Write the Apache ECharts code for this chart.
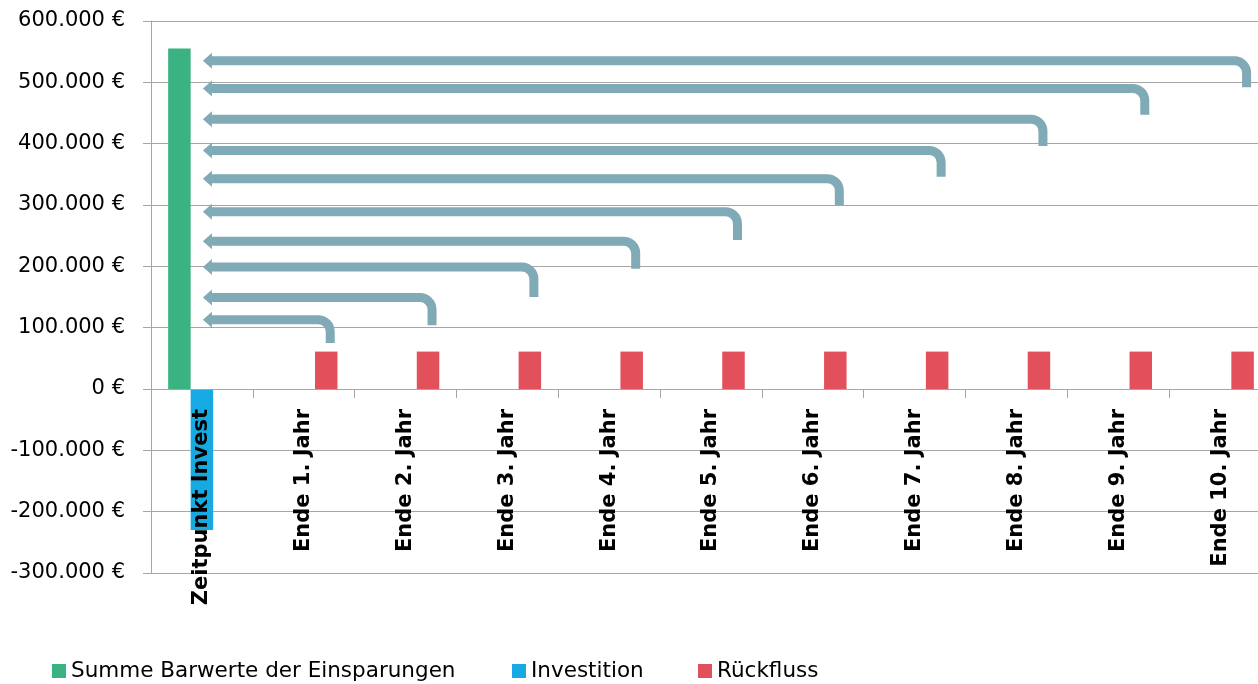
<!DOCTYPE html>
<html lang="de">
<head>
<meta charset="utf-8">
<title>Barwerte und Rückflüsse</title>
<script src="https://cdn.jsdelivr.net/npm/echarts@6/dist/echarts.min.js"></script>
<style>
  html, body { margin: 0; padding: 0; background: #fff; }
  #chart { width: 1258px; height: 684px; }
</style>
</head>
<body>
<div id="chart"></div>
<script>
// Zeitpunkte der Betrachtung
const categories = ['Zeitpunkt Invest', 'Ende 1. Jahr', 'Ende 2. Jahr', 'Ende 3. Jahr', 'Ende 4. Jahr',
  'Ende 5. Jahr', 'Ende 6. Jahr', 'Ende 7. Jahr', 'Ende 8. Jahr', 'Ende 9. Jahr', 'Ende 10. Jahr'];

// Werte in Euro
const summeBarwerte = [555000, '-', '-', '-', '-', '-', '-', '-', '-', '-', '-'];
const investition   = [-230000, '-', '-', '-', '-', '-', '-', '-', '-', '-', '-'];
const rueckfluss    = ['-', 61000, 61000, 61000, 61000, 61000, 61000, 61000, 61000, 61000, 61000];

// Pfeile: Jahr, Höhe der waagerechten Linie, unteres Ende der senkrechten Linie
const arrowYears  = [1, 2, 3, 4, 5, 6, 7, 8, 9, 10];
const arrowLevels = [113000, 149000, 199000, 241000, 289000, 343000, 389000, 440000, 490000, 535000];
const arrowStarts = [75000, 104000, 150000, 196000, 243000, 300000, 346000, 396000, 447000, 492000];

// Achsenbeschriftung
const yMin = -300000, yMax = 600000, yStep = 100000;

const FONT = 'DejaVu Sans';
const COLORS = { summe: '#3AB282', invest: '#17AAE2', rueck: '#E2505B', arrow: '#7FAAB6', grid: '#A6A6A6' };

function euro(v) {
  const s = String(Math.abs(v)).replace(/\B(?=(\d{3})+(?!\d))/g, '.');
  return (v < 0 ? '-' : '') + s + ' €';
}

const arrowData = arrowYears.map((y, i) => [y, arrowLevels[i], arrowStarts[i]]);

// Gebogener Pfeil vom Rückfluss zurück zum Zeitpunkt der Investition
function renderArrow(params, api) {
  const cat = api.value(0);
  const band = api.size([1, 0])[0];
  const top = api.coord([cat, api.value(1)]);
  const bottom = api.coord([cat, api.value(2)]);
  const tipX = api.coord([0, api.value(1)])[0] + 1;
  const vx = top[0] + band * 0.221 + 4;
  const y = top[1];
  const r = 12;
  const k = 0.55 * r;
  const head = 9, half = 8;
  const path = 'M' + vx + ',' + bottom[1] +
    ' L' + vx + ',' + (y + r) +
    ' C' + vx + ',' + (y + r - k) + ' ' + (vx - r + k) + ',' + y + ' ' + (vx - r) + ',' + y +
    ' L' + (tipX + head - 0.5) + ',' + y;
  return {
    type: 'group',
    children: [
      {
        type: 'path',
        shape: { pathData: path },
        style: { fill: 'none', stroke: COLORS.arrow, lineWidth: 9, lineCap: 'butt', lineJoin: 'round' }
      },
      {
        type: 'polygon',
        shape: { points: [[tipX, y], [tipX + head, y - half], [tipX + head, y + half]] },
        style: { fill: COLORS.arrow }
      }
    ]
  };
}

const chart = echarts.init(document.getElementById('chart'), null, { renderer: 'canvas' });

const legendBase = {
  top: 660,
  padding: 0,
  icon: 'rect',
  itemWidth: 14,
  itemHeight: 14,
  itemGap: 0,
  selectedMode: false,
  textStyle: { fontFamily: FONT, fontSize: 21.5, color: '#000', lineHeight: 22 }
};

chart.setOption({
  animation: false,
  backgroundColor: '#fff',
  grid: { left: 151, top: 21, width: 1120, height: 552, containLabel: false, outerBoundsMode: 'none' },
  legend: [
    Object.assign({}, legendBase, { left: 52, data: ['Summe Barwerte der Einsparungen'] }),
    Object.assign({}, legendBase, { left: 512, data: ['Investition'] }),
    Object.assign({}, legendBase, { left: 698, data: ['Rückfluss'] })
  ],
  xAxis: {
    type: 'category',
    data: categories,
    z: 5,
    axisLine: { onZero: true, lineStyle: { color: COLORS.grid, width: 1 } },
    axisTick: { show: true, length: 9, interval: 0, lineStyle: { color: COLORS.grid } },
    axisLabel: {
      interval: 0,
      rotate: 90,
      // Beschriftung direkt unter der Nulllinie statt am unteren Rand
      margin: -164,
      fontFamily: FONT,
      fontWeight: 'bold',
      fontSize: 21,
      color: '#000'
    },
    splitLine: { show: false }
  },
  yAxis: {
    type: 'value',
    min: yMin,
    max: yMax,
    interval: yStep,
    axisLine: { show: true, lineStyle: { color: COLORS.grid, width: 1 } },
    axisTick: { show: true, length: 8, lineStyle: { color: COLORS.grid } },
    axisLabel: {
      margin: 26,
      fontFamily: FONT,
      fontSize: 21,
      color: '#000',
      formatter: euro
    },
    splitLine: { show: true, lineStyle: { color: COLORS.grid, width: 1 } }
  },
  series: [
    {
      name: 'Summe Barwerte der Einsparungen',
      type: 'bar',
      data: summeBarwerte,
      barWidth: 22.5,
      barGap: '0%',
      itemStyle: { color: COLORS.summe }
    },
    {
      name: 'Investition',
      type: 'bar',
      data: investition,
      barWidth: 22.5,
      barGap: '0%',
      itemStyle: { color: COLORS.invest }
    },
    {
      name: 'Rückfluss',
      type: 'bar',
      data: rueckfluss,
      barWidth: 22.5,
      barGap: '0%',
      itemStyle: { color: COLORS.rueck }
    },
    {
      name: 'Barwertpfeile',
      type: 'custom',
      data: arrowData,
      encode: { x: 0, y: [1, 2] },
      renderItem: renderArrow,
      z: 3,
      silent: true
    }
  ]
});
</script>
</body>
</html>
